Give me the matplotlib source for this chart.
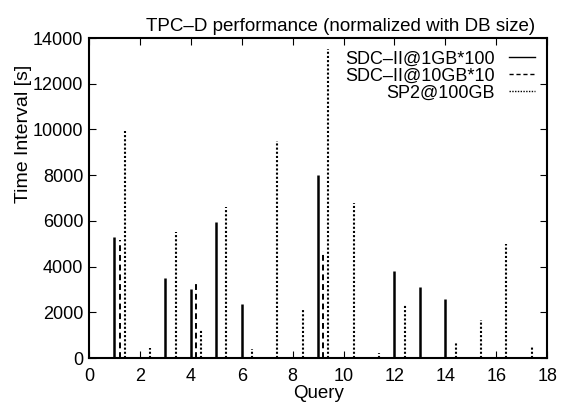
import matplotlib

matplotlib.use("Agg")
import matplotlib.pyplot as plt

queries = list(range(1, 18))
sdc_1gb = [5300, 0, 3500, 3000, 5950, 2350, 0, 0, 8000, 0, 0, 3800, 3100, 2600, 0, 0, 0]
sdc_10gb = [5150, 0, 0, 3300, 0, 0, 0, 0, 4700, 0, 0, 0, 0, 0, 0, 0, 0]
sp2_100gb = [9950, 420, 5500, 1250, 6600, 400, 9500, 2200, 13500, 6800, 220, 2300, 0, 700, 1650, 5000, 520]

labels = ["SDC\u2013II@1GB*100", "SDC\u2013II@10GB*10", "SP2@100GB"]

plt.rcParams["font.family"] = ["Liberation Sans", "DejaVu Sans"]

fig = plt.figure(figsize=(5.67, 4.05), dpi=100)
ax = fig.add_axes([0.157, 0.116, 0.808, 0.79])

series = [
    (sdc_1gb, 0.0, "solid", 1.8),
    (sdc_10gb, 0.2, (0, (3, 2)), 1.4),
    (sp2_100gb, 0.4, (0, (1, 1)), 1.5),
]
for (vals, offset, ls, lw), label in zip(series, labels):
    xs = [q + offset for q, v in zip(queries, vals) if v > 0]
    ys = [v for v in vals if v > 0]
    ax.vlines(xs, 0, ys, colors="black", linestyles=ls, linewidth=lw)
    ax.plot([], [], color="black", linestyle=ls, linewidth=1.0, label=label)

ax.set_xlim(0, 18)
ax.set_ylim(0, 14000)
ax.set_xticks(range(0, 19, 2))
ax.set_yticks(range(0, 14001, 2000))
ax.tick_params(direction="in", top=True, right=True, labelsize=13, length=5)
ax.tick_params(axis="x", pad=7)
ax.tick_params(axis="y", pad=4)
for s in ax.spines.values():
    s.set_linewidth(1.5)

ax.set_xlabel("Query", fontsize=13.5, labelpad=0)
ax.set_ylabel("Time Interval [s]", fontsize=14, labelpad=0)
ax.yaxis.set_label_coords(-0.125, 0.70)
ax.set_title("TPC\u2013D performance (normalized with DB size)", fontsize=13.5,
             x=0.55, pad=5)

ax.legend(loc="upper right", frameon=False, markerfirst=False, fontsize=13,
          handlelength=1.4, handletextpad=0.8, labelspacing=0.0,
          borderaxespad=0.5, borderpad=0.2)

fig.savefig("out.png", dpi=100)
